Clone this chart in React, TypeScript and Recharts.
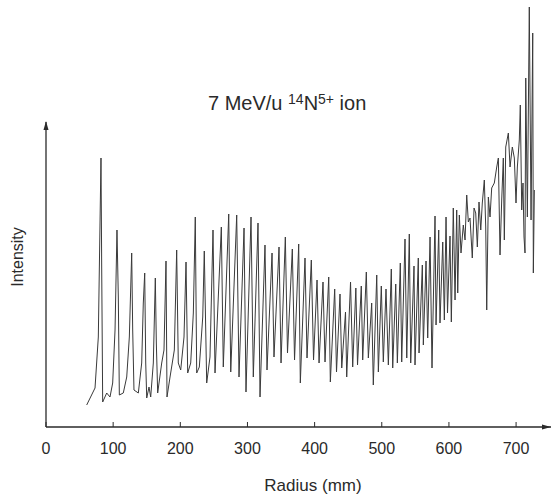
import { LineChart, Line, XAxis, YAxis, ReferenceLine, ReferenceDot } from "recharts";

// radial probe scan, radius in mm, intensity in arbitrary units
const innerRadius = [
  60.6, 73.0, 77.9, 81.9, 82.9, 84.4, 90.4, 95.3, 99.3, 102.8,
  105.7, 107.7, 109.2, 115.1, 120.2, 124.1, 127.6, 129.1, 131.0, 137.5,
  142.5, 144.9, 147.0, 148.5, 150.0, 153.4, 155.9, 159.8, 162.8, 164.3,
  166.3, 172.3, 175.7, 178.7, 180.2, 184.7, 191.1, 194.6, 197.0, 200.6,
  205.5, 208.5, 211.0, 215.5, 219.4, 222.3, 224.4, 228.3, 233.4, 235.7,
  239.3, 244.2, 248.7,
];
const innerIntensity = [
  22, 39, 90, 269, 164, 25, 34, 30, 44, 97,
  197, 130, 32, 34, 50, 90, 174, 97, 37, 34,
  64, 124, 154, 64, 29, 40, 30, 64, 149, 84,
  34, 64, 77, 166, 30, 50, 77, 177, 64, 57,
  90, 165, 54, 64, 114, 210, 54, 60, 110, 176,
  44, 70, 197,
];

const midRadius = [
  251.7, 261.1, 264.0, 272.1, 275.1, 284.0, 287.4, 294.9, 297.8, 305.3,
  308.7, 315.7, 318.7, 326.1, 329.1, 336.6, 339.5, 347.0, 350.0, 356.4,
  359.6, 366.8, 370.1, 376.3, 378.7, 385.7, 388.7, 395.1, 398.4, 403.6,
  406.6, 412.5, 415.5, 421.0, 423.4, 429.9, 432.6, 437.8, 440.4, 446.0,
  447.8, 453.5, 456.7, 461.4, 463.9, 469.5, 471.6, 477.0, 480.0, 485.0,
  487.4, 492.5, 494.9, 499.3, 502.3, 506.3, 509.8, 514.2, 516.3, 520.8,
  523.2, 527.6, 529.7, 534.6, 537.2, 541.0, 543.1, 548.0, 549.5, 554.4,
  555.5, 560.4, 561.9, 565.9, 568.4, 571.9, 574.8, 579.3, 580.8, 584.8,
  586.7, 590.8, 593.2, 595.7, 597.9, 601.6, 603.6, 606.5, 609.1, 611.6,
  613.1, 615.5,
];
const midIntensity = [
  54, 200, 60, 213, 55, 212, 50, 199, 35, 210,
  50, 204, 30, 182, 57, 174, 70, 180, 64, 190,
  74, 178, 67, 183, 44, 169, 69, 167, 67, 147,
  64, 145, 65, 150, 45, 138, 55, 133, 59, 115,
  50, 145, 60, 139, 62, 141, 67, 155, 69, 124,
  42, 152, 55, 141, 65, 138, 62, 158, 59, 143,
  64, 164, 65, 188, 69, 193, 64, 161, 62, 169,
  74, 162, 82, 166, 89, 190, 59, 211, 102, 197,
  104, 185, 107, 210, 114, 191, 105, 219, 127, 217,
  134, 212,
];

const outerRadius = [
  618.0, 621.4, 624.0, 626.5, 628.9, 631.4, 634.8, 637.4, 639.9, 642.3,
  644.8, 647.4, 649.7, 652.7, 654.8, 656.3, 658.7, 661.2, 663.7, 667.6,
  671.2, 673.6, 676.1, 678.6, 681.0, 682.5, 684.6, 688.5, 691.0, 694.4,
  697.4, 699.9, 701.9, 704.8, 706.3, 708.4, 710.3, 711.8, 713.3, 714.4,
  716.8, 719.7, 722.3, 724.8, 725.7, 727.2,
];
const outerIntensity = [
  174, 202, 187, 232, 205, 209, 169, 219, 214, 180,
  225, 197, 224, 247, 200, 117, 230, 210, 239, 244,
  260, 269, 172, 227, 269, 187, 280, 294, 260, 280,
  269, 224, 260, 287, 322, 217, 244, 190, 174, 349,
  210, 420, 207, 394, 154, 237,
];

const radiusTicks = [0, 100, 200, 300, 400, 500, 600, 700];

const radius = [...innerRadius, ...midRadius, ...outerRadius];
const intensity = [...innerIntensity, ...midIntensity, ...outerIntensity];
const data = radius.map((r, i) => ({ r, v: intensity[i] }));

const FONT = "'Liberation Sans', Arial, sans-serif";
const INK = "#2a2a2a";

const RadiusTick = ({ x, y, payload }: any) => (
  <g>
    <line x1={x} x2={x} y1={y} y2={y - 5} stroke={INK} strokeWidth={1} />
    <text
      x={x}
      y={y + 21}
      textAnchor="middle"
      dominantBaseline="central"
      fontFamily={FONT}
      fontSize={16}
      fill={INK}
    >
      {payload.value}
    </text>
  </g>
);

const UpArrow = ({ cx, cy }: any) => (
  <polygon points={`${cx},${cy - 1} ${cx - 2.5},${cy + 8} ${cx + 2.5},${cy + 8}`} fill={INK} />
);
const RightArrow = ({ cx, cy }: any) => (
  <polygon points={`${cx},${cy} ${cx - 9},${cy - 2.5} ${cx - 9},${cy + 2.5}`} fill={INK} />
);

export default function App() {
  return (
    <div style={{ position: "absolute", left: 0, top: 0, width: 551, height: 497, background: "#fff" }}>
      <LineChart width={551} height={497} data={data} margin={{ top: 5, right: 0, bottom: 0, left: 46 }}>
        <XAxis
          dataKey="r"
          type="number"
          domain={[0, 752]}
          ticks={radiusTicks}
          interval={0}
          height={70}
          tickLine={false}
          tickSize={0}
          tickMargin={0}
          tick={<RadiusTick />}
          axisLine={{ stroke: INK, strokeWidth: 1.3 }}
          allowDataOverflow
        />
        <YAxis hide type="number" domain={[0, 422]} allowDataOverflow />
        <ReferenceLine
          segment={[{ x: 0, y: 0 }, { x: 0, y: 305 }]}
          stroke={INK}
          strokeWidth={1.3}
          ifOverflow="visible"
        />
        <ReferenceDot x={0} y={305} r={0} shape={<UpArrow />} ifOverflow="visible" />
        <ReferenceDot x={752} y={0} r={0} shape={<RightArrow />} ifOverflow="visible" />
        <Line
          type="linear"
          dataKey="v"
          stroke="#3a3a3a"
          strokeWidth={1}
          dot={false}
          isAnimationActive={false}
        />
      </LineChart>
      <svg
        width={551}
        height={497}
        style={{ position: "absolute", left: 0, top: 0, pointerEvents: "none" }}
      >
        <text x={208} y={110} fontFamily={FONT} fontSize={20} fill={INK}>
          7 MeV/u{"  "}
          <tspan dy={-6} fontSize={14}>14</tspan>
          <tspan dy={6}>N</tspan>
          <tspan dy={-6} fontSize={14}>5+</tspan>
          <tspan dy={6}>{"  "}ion</tspan>
        </text>
        <text
          x={17}
          y={257}
          transform="rotate(-90 17 257)"
          textAnchor="middle"
          dominantBaseline="central"
          fontFamily={FONT}
          fontSize={16}
          fill={INK}
        >
          Intensity
        </text>
        <text
          x={313}
          y={485}
          textAnchor="middle"
          dominantBaseline="central"
          fontFamily={FONT}
          fontSize={17}
          fill={INK}
        >
          Radius (mm)
        </text>
      </svg>
    </div>
  );
}
